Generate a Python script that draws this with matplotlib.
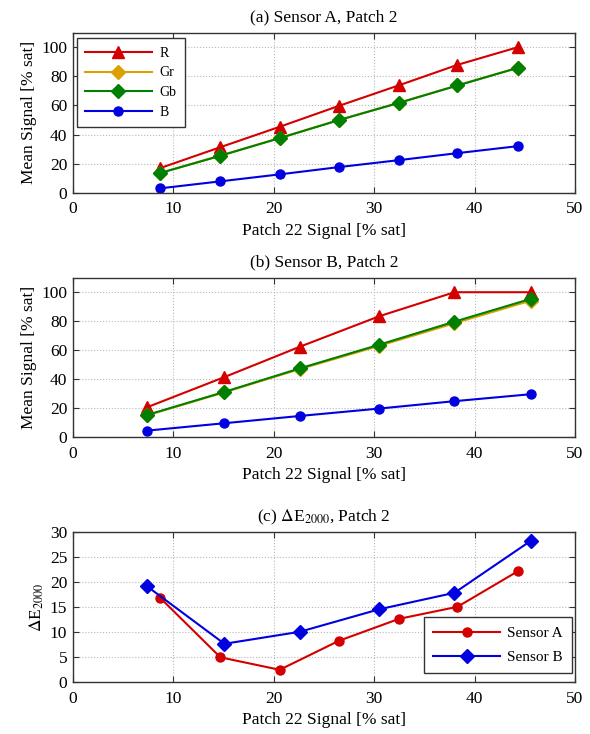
import matplotlib
matplotlib.use("Agg")
import matplotlib.pyplot as plt

plt.rcParams['font.family'] = ['Liberation Serif', 'DejaVu Serif']
plt.rcParams['mathtext.fontset'] = 'stix'

# Sensor A
xa = [8.7, 14.7, 20.6, 26.5, 32.5, 38.3, 44.3]
a_R = [16.9, 31.3, 45.3, 59.7, 73.9, 87.9, 100.0]
a_Gr = [13.6, 25.5, 37.6, 50.0, 61.9, 73.8, 85.9]
a_Gb = [13.5, 25.4, 37.5, 49.9, 61.8, 73.7, 85.8]
a_B = [3.0, 7.8, 12.6, 17.6, 22.4, 27.2, 32.0]

# Sensor B
xb = [7.4, 15.1, 22.6, 30.5, 38.0, 45.6]
b_R = [20.7, 41.5, 62.4, 83.4, 100.0, 100.0]
b_Gr = [15.1, 31.0, 47.0, 63.0, 78.6, 94.2]
b_Gb = [15.4, 31.3, 47.5, 63.8, 79.7, 95.4]
b_B = [4.6, 9.7, 14.7, 19.8, 24.9, 29.7]

# Delta E 2000
dE_A = [16.9, 5.0, 2.5, 8.3, 12.7, 15.1, 22.2]
dE_B = [19.2, 7.7, 10.1, 14.6, 17.9, 28.3]

channels = ['R', 'Gr', 'Gb', 'B']
ch_colors = ['#d40000', '#dba100', '#008000', '#0000e0']
ch_markers = ['^', 'D', 'D', 'o']
ch_msize = [8, 7, 7, 6.5]

W, H = 590, 734
fig = plt.figure(figsize=(W / 100, H / 100), dpi=100)

def ax_at(left, top, right, bottom):
    return fig.add_axes([left / W, 1 - bottom / H, (right - left) / W, (bottom - top) / H])

ax1 = ax_at(72.7, 32.7, 575, 192.7)
ax2 = ax_at(72.7, 277.7, 575, 437.3)
ax3 = ax_at(72.7, 532.3, 575, 682.3)

fs = 12.5

def style(ax, ylim, yticks):
    ax.set_xlim(0, 50)
    ax.set_ylim(*ylim)
    ax.set_xticks([0, 10, 20, 30, 40, 50])
    ax.set_yticks(yticks)
    ax.grid(True, linestyle=':', color='#b8b8b8', linewidth=0.8)
    ax.tick_params(direction='in', top=True, right=True, labelsize=fs, length=4,
                   color='#333333')
    ax.tick_params(axis='x', pad=6)
    ax.tick_params(axis='y', pad=4)
    for s in ax.spines.values():
        s.set_color('#333333')
        s.set_linewidth(1.0)
    ax.set_axisbelow(True)

for ax, x, series, title in [
    (ax1, xa, [a_R, a_Gr, a_Gb, a_B], '(a) Sensor A, Patch 2'),
    (ax2, xb, [b_R, b_Gr, b_Gb, b_B], '(b) Sensor B, Patch 2'),
]:
    for name, y, c, m, ms in zip(channels, series, ch_colors, ch_markers, ch_msize):
        ax.plot(x, y, color=c, marker=m, markersize=ms, linewidth=1.5, label=name)
    style(ax, (0, 110), [0, 20, 40, 60, 80, 100])
    ax.set_title(title, fontsize=fs, pad=8)
    ax.set_xlabel('Patch 22 Signal [% sat]', fontsize=fs, labelpad=4)
    ax.set_ylabel('Mean Signal [% sat]', fontsize=fs, labelpad=3)

leg = ax1.legend(loc='upper left', bbox_to_anchor=(4.0 / 502.3, 1 - 5.6 / 160),
                 borderaxespad=0, fontsize=10, fancybox=False, edgecolor='#333333',
                 handlelength=4.8, handletextpad=0.55, borderpad=0.6,
                 labelspacing=0.49, framealpha=1)
leg.get_frame().set_linewidth(1.0)

ax3.plot(xa, dE_A, color='#d40000', marker='o', markersize=6.5, linewidth=1.5, label='Sensor A')
ax3.plot(xb, dE_B, color='#0000e0', marker='D', markersize=7, linewidth=1.5, label='Sensor B')
style(ax3, (0, 30), [0, 5, 10, 15, 20, 25, 30])
ax3.set_title(r'(c) $\Delta$E$_{2000}$, Patch 2', fontsize=fs, pad=8)
ax3.set_xlabel('Patch 22 Signal [% sat]', fontsize=fs, labelpad=4)
ax3.set_ylabel(r'$\Delta$E$_{2000}$', fontsize=fs, labelpad=3)
leg3 = ax3.legend(loc='lower right', bbox_to_anchor=(1 - 3.5 / 502.3, 9 / 150),
                  borderaxespad=0, fontsize=11, fancybox=False, edgecolor='#333333',
                  handlelength=4.35, handletextpad=0.45, borderpad=0.6,
                  labelspacing=0.68, framealpha=1)
leg3.get_frame().set_linewidth(1.0)

fig.savefig('out.png', dpi=100)
